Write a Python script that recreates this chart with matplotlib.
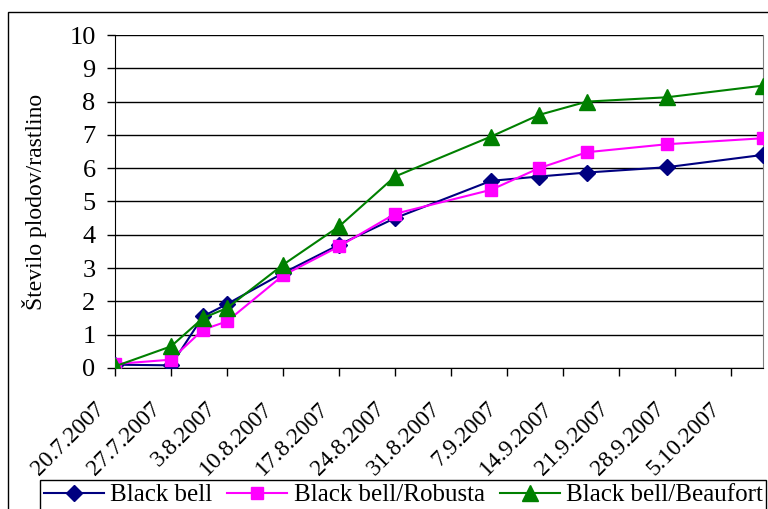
import datetime as dt
import matplotlib
matplotlib.use('Agg')
from matplotlib import pyplot as plt
from matplotlib.patches import Rectangle

plt.rcParams['font.family'] = ['Liberation Serif', 'DejaVu Serif']

# sampling dates and fruit counts per plant
dates = ['20.7.2007', '27.7.2007', '31.7.2007', '3.8.2007', '10.8.2007', '17.8.2007',
         '24.8.2007', '5.9.2007', '11.9.2007', '17.9.2007', '27.9.2007', '9.10.2007']
black_bell = [0.1, 0.08, 1.55, 1.92, 2.85, 3.7, 4.5, 5.62, 5.75, 5.87, 6.03, 6.4]
robusta = [0.12, 0.25, 1.15, 1.4, 2.78, 3.65, 4.63, 5.35, 6.0, 6.48, 6.72, 6.9]
beaufort = [0.05, 0.65, 1.5, 1.8, 3.1, 4.25, 5.75, 6.95, 7.6, 8.0, 8.13, 8.48]

tick_labels = ['20.7.2007', '27.7.2007', '3.8.2007', '10.8.2007', '17.8.2007', '24.8.2007',
               '31.8.2007', '7.9.2007', '14.9.2007', '21.9.2007', '28.9.2007', '5.10.2007']


def parse(s):
    return dt.datetime.strptime(s, '%d.%m.%Y')


x = [parse(d) for d in dates]
ticks = [parse(d) for d in tick_labels]

fig = plt.figure(figsize=(7.68, 5.09), dpi=100)
ax = fig.add_axes([115 / 768, 1 - 368 / 509, 648 / 768, 333 / 509])

ax.plot(x, black_bell, color='#000080', marker='D', markersize=8, lw=1.5, label='Black bell', zorder=3)
ax.plot(x, robusta, color='#FF00FF', marker='s', markersize=9, lw=1.5, label='Black bell/Robusta', zorder=4)
ax.plot(x, beaufort, color='#008000', marker='^', markersize=11, lw=1.5, label='Black bell/Beaufort', zorder=5)

ax.set_xlim(x[0], x[-1])
ax.set_ylim(0, 10)
ax.set_yticks(range(0, 11))
ax.set_xticks(ticks)
ax.set_xticklabels([])
# slanted date labels, set a bit left of and below each weekly tick
for t, lab in zip(ticks, tick_labels):
    ax.annotate(lab, xy=(t, 0), xycoords=('data', 'axes fraction'),
                xytext=(-10, -27), textcoords='offset points',
                rotation=45, ha='right', va='center', rotation_mode='anchor',
                fontsize=17, annotation_clip=False)
ax.tick_params(axis='y', labelsize=19, direction='out', length=6, width=1, pad=8)
ax.tick_params(axis='x', direction='out', length=6, width=1)
ax.grid(axis='y', color='black', lw=1)
ax.set_axisbelow(True)
ax.spines['top'].set_visible(False)
ax.spines['right'].set_color('#808080')
ax.spines['left'].set_color('black')
ax.spines['bottom'].set_color('black')
ax.set_ylabel('Število plodov/rastlino', fontsize=17, labelpad=16)

# chart area border
fig.add_artist(Rectangle((8 / 768, -0.01), 1, 1 - 12 / 509 + 0.01, transform=fig.transFigure,
                         fill=False, edgecolor='black', lw=1))

fig.legend(loc='upper left', bbox_to_anchor=(40 / 768, 1 - 480 / 509), ncol=3, fontsize=18,
           frameon=True, fancybox=False, edgecolor='black', framealpha=1,
           handlelength=2.4, columnspacing=0.6, handletextpad=0.25, borderpad=0.15,
           borderaxespad=0)

fig.savefig('out.png', dpi=100)
